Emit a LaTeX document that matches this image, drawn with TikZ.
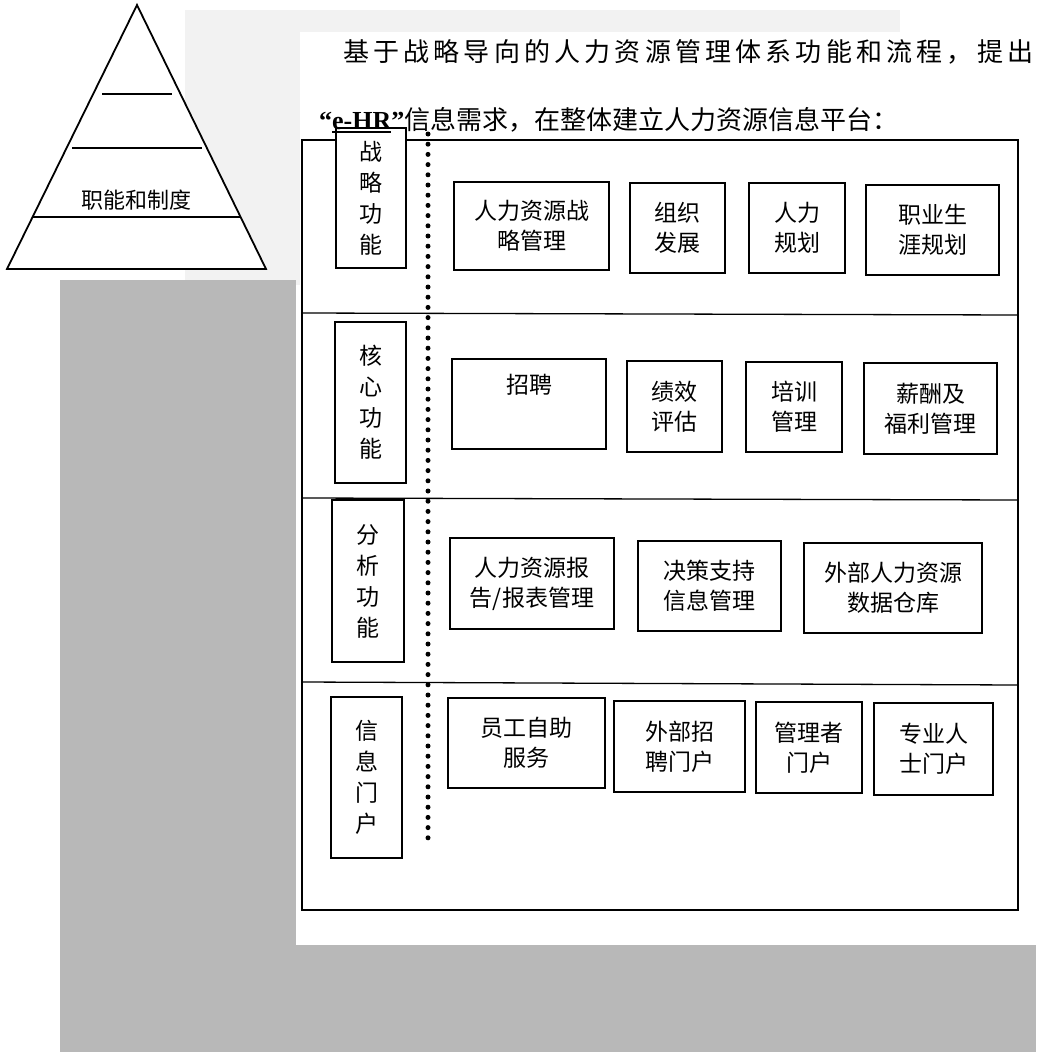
\documentclass[tikz,border=0pt]{standalone}
\usepackage{fontspec}
\setmainfont{Liberation Serif}
\newfontfamily\cjk{Noto Sans CJK SC}
\makeatletter
\newcommand\spreadtext[2]{\makebox[#1]{\let\spsep\relax\@tfor\sptok:=#2\do{\spsep\sptok\let\spsep\hfill}}}
\makeatother
\newcommand\ulbox[1]{\setbox0\hbox{#1}\rlap{\rule[-3pt]{\wd0}{1.4pt}}\box0}
\newcommand\bx[7][hbox]{\node[#1, minimum width={(#5-#3)*1pt}, minimum height={(#6-#4)*1pt}] (#2) at ({(#3+#5)/2},{(#4+#6)/2}) {#7};}
\begin{document}
\begin{tikzpicture}[x=1pt,y=-1pt,
  hbox/.style={draw, line width=1.5pt, fill=white, inner sep=0pt, align=center, font={\cjk\fontsize{23}{30}\selectfont}},
  sidebox/.style={hbox, font={\cjk\fontsize{23}{31}\selectfont}},
  outerline/.style={line width=1.3pt},
  pyr/.style={line width=1.8pt},
  dotline/.style={line width=5pt, line cap=round, dash pattern=on 0pt off 10.2pt},
  noiselight/.style={black!5},
  noisedark/.style={black!28}]
% canvas
\fill[white] (0,0) rectangle (1036,1052);
\useasboundingbox (0,0) rectangle (1036,1052);
% scan background tone
\fill[noiselight] (185,10) rectangle (900,32);
\fill[noiselight] (185,10) rectangle (300,285);
\fill[noisedark] (60,280) rectangle (296,1052);
\fill[noisedark] (60,945) rectangle (1036,1052);
% pyramid
\coordinate (pA) at (137,5);
\coordinate (pL) at (7,269);
\coordinate (pR) at (266,269);
\draw[pyr, fill=white] (pA) -- (pL) -- (pR) -- cycle;
\draw[pyr] (102,94) -- (172,94);
\draw[pyr] (72,148) -- (202,148);
\draw[pyr] (32,217) -- (240,217);
\node[font={\cjk\fontsize{22}{26}\selectfont}] (ptext) at (136,200) {职能和制度};
% outer frame and row separators
\coordinate (oTL) at (302,140);
\coordinate (oBR) at (1018,910);
\draw[outerline, fill=white] (oTL) rectangle (oBR);
\coordinate (r1L) at (302,313); \coordinate (r1R) at (1018,315);
\coordinate (r2L) at (302,498); \coordinate (r2R) at (1018,500);
\coordinate (r3L) at (302,682); \coordinate (r3R) at (1018,685);
\draw[outerline] (r1L) -- (r1R);
\draw[outerline] (r2L) -- (r2R);
\draw[outerline] (r3L) -- (r3R);
% row 1
\bx[sidebox]{s1}{336}{128}{406}{268}{战\\略\\功\\能}
\bx{a1}{454}{182}{609}{270}{人力资源战\\略管理}
\bx{a2}{630}{183}{725}{273}{组织\\发展}
\bx{a3}{749}{183}{845}{273}{人力\\规划}
\bx{a4}{866}{185}{999}{275}{职业生\\涯规划}
% row 2
\bx[sidebox]{s2}{335}{322}{406}{483}{核\\心\\功\\能}
\bx[hbox, label={[anchor=north, yshift=-12pt, font={\cjk\fontsize{23}{30}\selectfont}]north:招聘}]{b1}{452}{359}{606}{449}{}
\bx{b2}{627}{361}{722}{452}{绩效\\评估}
\bx{b3}{746}{362}{842}{452}{培训\\管理}
\bx{b4}{864}{363}{997}{454}{薪酬及\\福利管理}
% row 3
\bx[sidebox]{s3}{332}{500}{404}{662}{分\\析\\功\\能}
\bx{c1}{450}{538}{614}{629}{人力资源报\\告/报表管理}
\bx{c2}{638}{541}{781}{631}{决策支持\\信息管理}
\bx{c3}{804}{543}{982}{633}{外部人力资源\\数据仓库}
% row 4
\bx[sidebox]{s4}{331}{697}{402}{858}{信\\息\\门\\户}
\bx{d1}{448}{698}{605}{788}{员工自助\\服务}
\bx{d2}{614}{701}{745}{792}{外部招\\聘门户}
\bx{d3}{756}{702}{862}{793}{管理者\\门户}
\bx{d4}{874}{703}{993}{795}{专业人\\士门户}
% dotted divider
\coordinate (dTop) at (428,134);
\coordinate (dBot) at (428,838);
\draw[dotline] (dTop) -- (dBot);
% title
\node[anchor=west, inner sep=0pt, font={\cjk\fontsize{26}{30}\selectfont}] (t1) at (343,52)
  {\spreadtext{690pt}{基于战略导向的人力资源管理体系功能和流程，提出}};
\node[anchor=west, inner sep=0pt, font={\cjk\fontsize{26}{30}\selectfont}] (t2) at (319,120)
  {{\rmfamily\bfseries “\ulbox{e-HR}”}信息需求，在整体建立人力资源信息平台：};
\end{tikzpicture}
\end{document}
